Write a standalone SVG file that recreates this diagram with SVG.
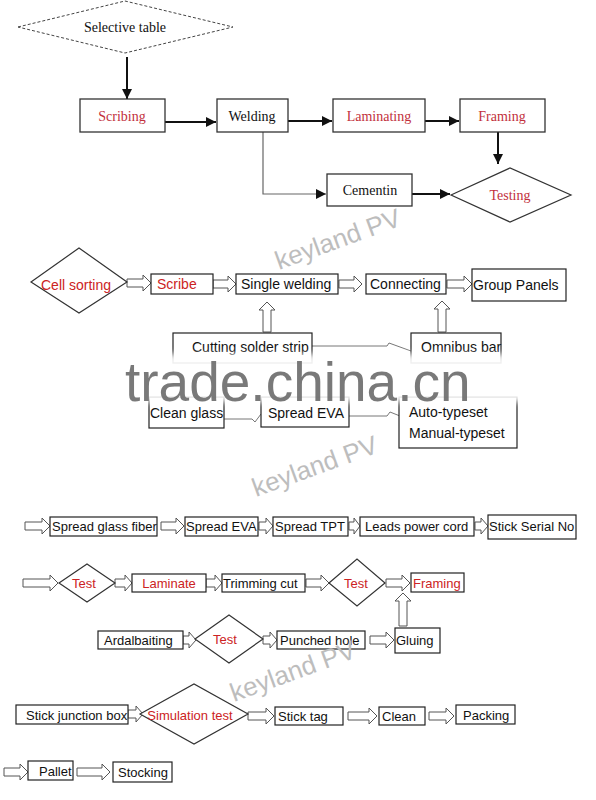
<svg xmlns="http://www.w3.org/2000/svg" width="596" height="800" viewBox="0 0 596 800">
<defs>
<style>
.bx{fill:#fff;stroke:#333;stroke-width:1.3}
.bx2{fill:#fff;stroke:#222;stroke-width:1.2}
.dm{fill:#fff;stroke:#333;stroke-width:1.2}
.ba{fill:#fff;stroke:#555;stroke-width:1}
.ln{fill:none;stroke:#111;stroke-width:2}
.thin{fill:none;stroke:#666;stroke-width:1.2}
.kink{fill:none;stroke:#777;stroke-width:1}
.se{font-family:"Liberation Serif","Times New Roman",serif;font-size:14px;fill:#111;text-anchor:middle}
.ser{fill:#c2303c}
.sa{font-family:"Liberation Sans",Arial,sans-serif;font-size:14px;fill:#111}
.s13{font-size:13px}
.red{fill:#cc2323}
.mid{text-anchor:middle}
.wm{font-family:"Liberation Sans",Arial,sans-serif;font-size:26px;fill:#bdbdbd}
</style>
<marker id="ah" viewBox="0 0 10 10" refX="10" refY="5" markerWidth="10" markerHeight="10" markerUnits="userSpaceOnUse" orient="auto">
<path d="M0,0 L10,5 L0,10 Z" fill="#111"/>
</marker>
<filter id="blur" x="-10%" y="-30%" width="120%" height="160%"><feGaussianBlur stdDeviation="3"/></filter>
</defs>
<rect width="596" height="800" fill="#fff"/>

<g id="connectors">
<line class="ln" x1="127" y1="57" x2="127" y2="99" marker-end="url(#ah)"/>
<line class="ln" x1="165" y1="122" x2="216" y2="122" marker-end="url(#ah)"/>
<line class="ln" x1="288" y1="121" x2="332" y2="121" marker-end="url(#ah)"/>
<line class="ln" x1="425" y1="121" x2="459" y2="121" marker-end="url(#ah)"/>
<line class="ln" x1="498" y1="132" x2="498" y2="164" marker-end="url(#ah)"/>
<path class="thin" d="M263,132 V194 H326" marker-end="url(#ah)"/>
<line class="ln" x1="412" y1="194" x2="450" y2="194" marker-end="url(#ah)"/>

<path class="ba" d="M127,279 H143 V275 L151,283 L143,291 V287 H127 Z"/>
<path class="ba" d="M213,280 H228 V276 L236,284 L228,292 V288 H213 Z"/>
<path class="ba" d="M339,280 H354 V276 L362,284 L354,292 V288 H339 Z"/>
<path class="ba" d="M447,280 H464 V276 L472,284 L464,292 V288 H447 Z"/>
<path class="ba" d="M263,332 V310 H259 L267,302 L275,310 H271 V332 Z"/>
<path class="ba" d="M438,332 V309 H434 L442,301 L450,309 H446 V332 Z"/>
<path class="kink" d="M312,346 H387 L389,343 L411,351"/>
<path class="kink" d="M224,419 H252 L255,422 L261,414"/>
<path class="kink" d="M349,416 H387 L390,412 L400,416"/>

<path class="ba" d="M25,522 H42 V518 L50,526 L42,534 V530 H25 Z"/>
<path class="ba" d="M161,522 H176 V518 L184,526 L176,534 V530 H161 Z"/>
<path class="ba" d="M259,522 H266 V518 L273,526 L266,534 V530 H259 Z"/>
<path class="ba" d="M349,522 H354 V518 L360,526 L354,534 V530 H349 Z"/>
<path class="ba" d="M475,522 H481 V518 L488,526 L481,534 V530 H475 Z"/>
<path class="ba" d="M23,579 H50 V575 L58,583 L50,591 V587 H23 Z"/>
<path class="ba" d="M115,579 H125 V575 L132,583 L125,591 V587 H115 Z"/>
<path class="ba" d="M206,579 H215 V575 L222,583 L215,591 V587 H206 Z"/>
<path class="ba" d="M306,579 H321 V575 L329,583 L321,591 V587 H306 Z"/>
<path class="ba" d="M386,579 H402 V575 L410,583 L402,591 V587 H386 Z"/>
<path class="ba" d="M399,626 V601 H395 L403,593 L411,601 H407 V626 Z"/>
<path class="ba" d="M183,636 H189 V632 L196,640 L189,648 V644 H183 Z"/>
<path class="ba" d="M263,636 H270 V632 L277,640 L270,648 V644 H263 Z"/>
<path class="ba" d="M370,636 H386 V632 L394,640 L386,648 V644 H370 Z"/>
<path class="ba" d="M128,710 H136 V706 L143,714 L136,722 V718 H128 Z"/>
<path class="ba" d="M248,712 H266 V708 L274,716 L266,724 V720 H248 Z"/>
<path class="ba" d="M348,712 H369 V708 L377,716 L369,724 V720 H348 Z"/>
<path class="ba" d="M429,712 H446 V708 L454,716 L446,724 V720 H429 Z"/>
<path class="ba" d="M4,768 H20 V764 L28,772 L20,780 V776 H4 Z"/>
<path class="ba" d="M77,768 H102 V764 L110,772 L102,780 V776 H77 Z"/>
</g>

<!-- top section -->
<g id="selective-table"><polygon points="18,27 125,1 233,27 125,53" fill="#fff" stroke="#444" stroke-width="1" stroke-dasharray="3,2"/><text class="se" x="125" y="32">Selective table</text></g>
<g id="scribing"><rect class="bx" x="80" y="99" width="85" height="33"/><text class="se ser" x="122" y="121">Scribing</text></g>
<g id="welding"><rect class="bx" x="217" y="99" width="71" height="33"/><text class="se" x="252" y="121">Welding</text></g>
<g id="laminating"><rect class="bx" x="333" y="99" width="92" height="33"/><text class="se ser" x="379" y="121">Laminating</text></g>
<g id="framing-top"><rect class="bx" x="460" y="99" width="85" height="33"/><text class="se ser" x="502" y="121">Framing</text></g>
<g id="cementin"><rect class="bx" x="327" y="174" width="85" height="32"/><text class="se" x="370" y="195">Cementin</text></g>
<g id="testing"><polygon class="dm" points="451,195 510,168 571,195 510,222"/><text class="se ser" x="510" y="200">Testing</text></g>

<!-- middle section -->
<g id="cell-sorting"><polygon class="dm" points="31,282 79,248 127,282 79,313"/><text class="sa red mid" x="76" y="290">Cell sorting</text></g>
<g id="scribe"><rect class="bx2" x="151" y="274" width="62" height="20"/><text class="sa red" x="157" y="289">Scribe</text></g>
<g id="single-welding"><rect class="bx2" x="236" y="274" width="102" height="20"/><text class="sa" x="241" y="289">Single welding</text></g>
<g id="connecting"><rect class="bx2" x="366" y="274" width="80" height="20"/><text class="sa" x="370" y="289">Connecting</text></g>
<g id="group-panels"><rect class="bx2" x="472" y="269" width="94" height="32"/><text class="sa" x="473" y="290">Group Panels</text></g>
<g id="cutting-solder-strip"><rect class="bx2" x="173" y="333" width="139" height="30"/><text class="sa" x="192" y="352">Cutting solder strip</text></g>
<g id="omnibus-bar"><rect class="bx2" x="411" y="333" width="90" height="30"/><text class="sa" x="421" y="352">Omnibus bar</text></g>
<g id="clean-glass"><rect class="bx2" x="149" y="397" width="75" height="31"/><text class="sa" x="150" y="418">Clean glass</text></g>
<g id="spread-eva-mid"><rect class="bx2" x="261" y="397" width="88" height="30"/><text class="sa" x="268" y="418">Spread EVA</text></g>
<g id="typeset"><rect class="bx2" x="399" y="397" width="118" height="51"/><text class="sa" x="409" y="417">Auto-typeset</text><text class="sa" x="409" y="438">Manual-typeset</text></g>

<!-- lower section -->
<g id="spread-glass-fiber"><rect class="bx2" x="50" y="517" width="107" height="19"/><text class="sa s13" x="52" y="531">Spread glass fiber</text></g>
<g id="spread-eva"><rect class="bx2" x="185" y="517" width="73" height="19"/><text class="sa s13" x="186" y="531">Spread EVA</text></g>
<g id="spread-tpt"><rect class="bx2" x="273" y="517" width="75" height="19"/><text class="sa s13" x="275" y="531">Spread TPT</text></g>
<g id="leads-power-cord"><rect class="bx2" x="360" y="517" width="114" height="19"/><text class="sa s13" x="365" y="531">Leads power cord</text></g>
<g id="stick-serial-no"><rect class="bx2" x="488" y="515" width="88" height="24"/><text class="sa s13" x="489" y="531">Stick Serial No</text></g>

<g id="test-1"><polygon class="dm" points="59,583 87,564 115,583 87,602"/><text class="sa s13 red mid" x="84" y="588">Test</text></g>
<g id="laminate"><rect class="bx2" x="132" y="574" width="74" height="18"/><text class="sa s13 red mid" x="169" y="588">Laminate</text></g>
<g id="trimming-cut"><rect class="bx2" x="222" y="574" width="83" height="18"/><text class="sa s13" x="223" y="588">Trimming cut</text></g>
<g id="test-2"><polygon class="dm" points="329,583 357,559 385,583 357,606"/><text class="sa s13 red mid" x="356" y="588">Test</text></g>
<g id="framing"><rect class="bx2" x="411" y="573" width="53" height="19"/><text class="sa s13 red" x="413" y="588">Framing</text></g>

<g id="ardalbaiting"><rect class="bx2" x="98" y="631" width="85" height="18"/><text class="sa s13" x="104" y="645">Ardalbaiting</text></g>
<g id="test-3"><polygon class="dm" points="195,639 229,615 263,639 229,663"/><text class="sa s13 red mid" x="225" y="644">Test</text></g>
<g id="punched-hole"><rect class="bx2" x="277" y="631" width="88" height="18"/><text class="sa s13" x="280" y="645">Punched hole</text></g>
<g id="gluing"><rect class="bx2" x="395" y="628" width="45" height="25"/><text class="sa s13" x="396" y="645">Gluing</text></g>

<g id="stick-junction-box"><rect class="bx2" x="16" y="705" width="112" height="19"/><text class="sa s13" x="26" y="720">Stick junction box</text></g>
<g id="simulation-test"><polygon class="dm" points="140,714 194,684 248,714 194,744"/><text class="sa s13 red mid" x="190" y="720">Simulation test</text></g>
<g id="stick-tag"><rect class="bx2" x="275" y="707" width="68" height="18"/><text class="sa s13" x="278" y="721">Stick tag</text></g>
<g id="clean"><rect class="bx2" x="379" y="707" width="46" height="18"/><text class="sa s13" x="382" y="721">Clean</text></g>
<g id="packing"><rect class="bx2" x="456" y="705" width="59" height="19"/><text class="sa s13" x="463" y="720">Packing</text></g>
<g id="pallet"><rect class="bx2" x="28" y="761" width="45" height="19"/><text class="sa s13" x="39" y="776">Pallet</text></g>
<g id="stocking"><rect class="bx2" x="113" y="762" width="59" height="20"/><text class="sa s13" x="118" y="777">Stocking</text></g>

<!-- watermarks -->
<g id="watermarks">
<text class="wm" x="279" y="270" transform="rotate(-20 279 270)">keyland PV</text>
<text class="wm" x="256" y="497" transform="rotate(-20 256 497)">keyland PV</text>
<text class="wm" x="234" y="702" transform="rotate(-20 234 702)">keyland PV</text>
<rect x="140" y="354" width="395" height="48" fill="#fff" opacity="0.92" filter="url(#blur)"/>
<text x="125" y="401" font-family="'Liberation Sans',Arial,sans-serif" font-size="55" fill="#6e6e6e" opacity="0.92">trade.china.cn</text>
</g>
</svg>
